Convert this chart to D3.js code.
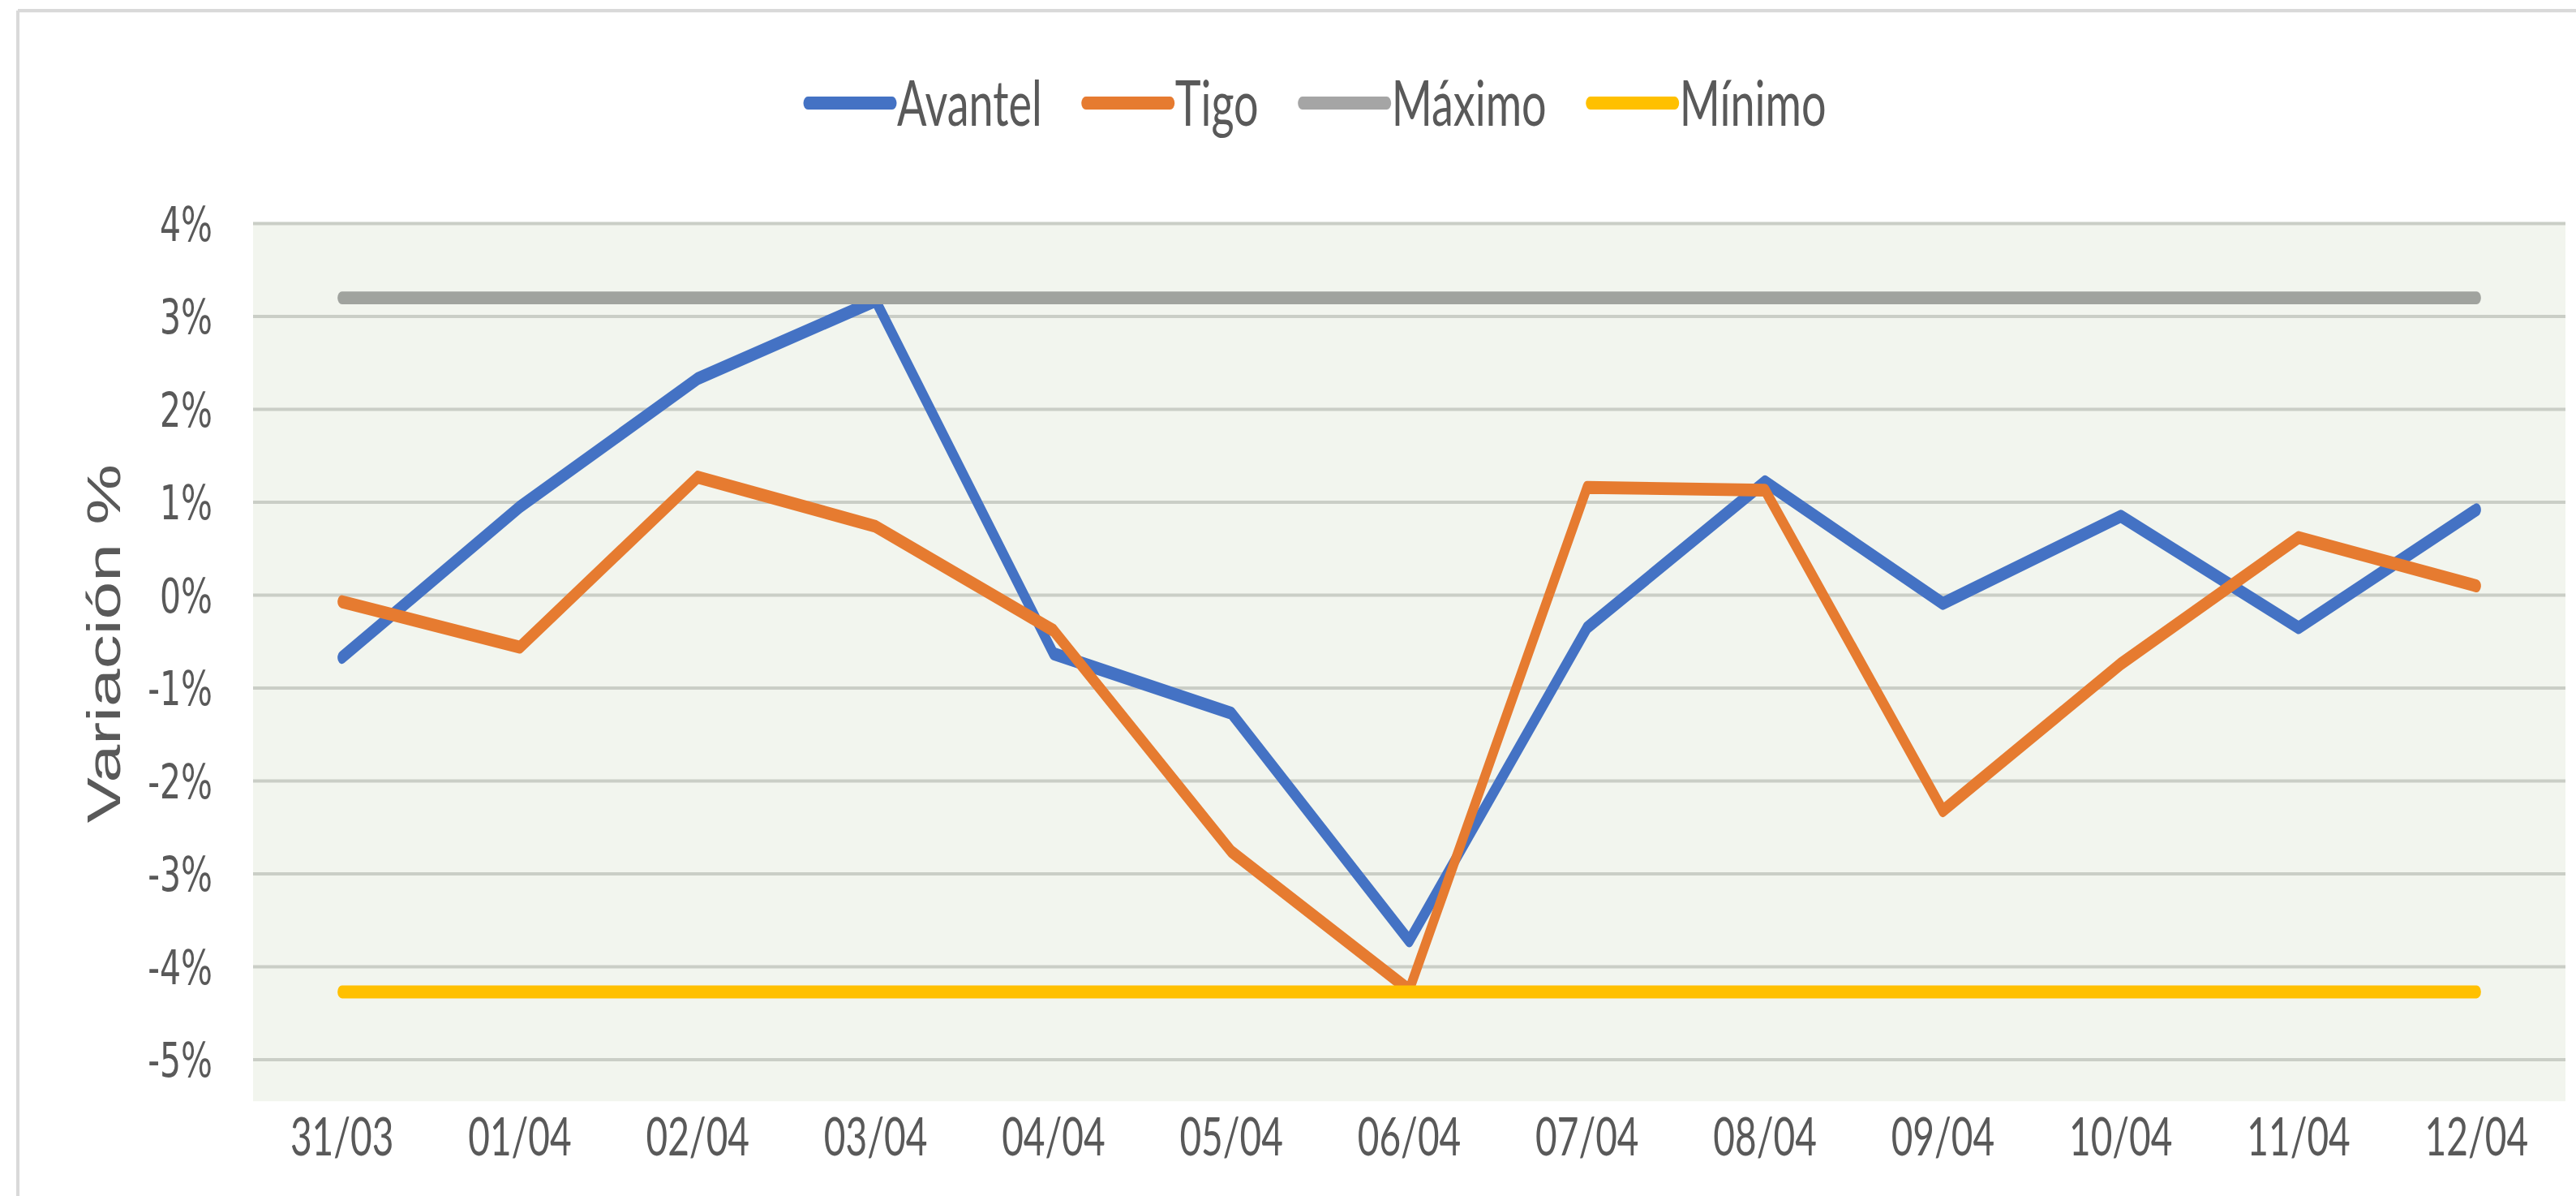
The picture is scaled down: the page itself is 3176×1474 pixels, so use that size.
<!DOCTYPE html>
<html>
<head>
<meta charset="utf-8">
<script src="https://cdn.jsdelivr.net/npm/d3@7"></script>
<style>
    html, body { margin: 0; padding: 0; background: #ffffff; }
    svg { display: block; }
</style>
</head>
<body>
<script>
// Data
const categories = ["31/03", "01/04", "02/04", "03/04", "04/04", "05/04", "06/04",
    "07/04", "08/04", "09/04", "10/04", "11/04", "12/04"];
const avantel = [-0.67, 0.95, 2.33, 3.17, -0.63, -1.27, -3.72, -0.35, 1.22, -0.09, 0.85, -0.35, 0.92];
const tigo = [-0.07, -0.56, 1.27, 0.74, -0.38, -2.76, -4.25, 1.16, 1.13, -2.32, -0.74, 0.62, 0.10];
const maximo = [3.2, 3.2, 3.2, 3.2, 3.2, 3.2, 3.2, 3.2, 3.2, 3.2, 3.2, 3.2, 3.2];
const minimo = [-4.27, -4.27, -4.27, -4.27, -4.27, -4.27, -4.27, -4.27, -4.27, -4.27, -4.27, -4.27, -4.27];
const yTicks = [-5, -4, -3, -2, -1, 0, 1, 2, 3, 4];

const seriesNames = ["Avantel", "Tigo", "Máximo", "Mínimo"];
const seriesValues = [avantel, tigo, maximo, minimo];
const seriesColors = ["#4472C4", "#E67B30", "#A0A39E", "#FFC000"];

const width = 3176;
const height = 1474;
// The original picture is stretched vertically, so draw in a squashed
// coordinate system and stretch the whole group back.
const stretch = 1.45;
const innerH = height / stretch;

const plot = {left: 312, right: 3163, top: 190, bottom: 900.7, bgBottom: 936};

const svg = d3.select("body").append("svg")
    .attr("width", width)
    .attr("height", height);

const root = svg.append("g").attr("transform", `scale(1, ${stretch})`);

// Outer frame (left and top edges only are visible)
root.append("line")
    .attr("x1", 22).attr("x2", 22).attr("y1", 9).attr("y2", innerH)
    .attr("stroke", "#D9D9D9").attr("stroke-width", 4);
root.append("line")
    .attr("x1", 22).attr("x2", width).attr("y1", 9).attr("y2", 9)
    .attr("stroke", "#D9D9D9").attr("stroke-width", 3);

const x = d3.scaleBand()
    .domain(categories)
    .range([plot.left, plot.right]);

const y = d3.scaleLinear()
    .domain([-5, 4])
    .range([plot.bottom, plot.top]);

const cx = d => x(d) + x.bandwidth() / 2;

// Plot area background
root.append("rect")
    .attr("x", plot.left)
    .attr("y", plot.top)
    .attr("width", plot.right - plot.left)
    .attr("height", plot.bgBottom - plot.top)
    .attr("fill", "#F2F5EE");

// Gridlines
root.append("g")
    .selectAll("line")
    .data(yTicks)
    .join("line")
    .attr("x1", plot.left)
    .attr("x2", plot.right)
    .attr("y1", d => y(d))
    .attr("y2", d => y(d))
    .attr("stroke", "#CACEC6")
    .attr("stroke-width", 2.8);

// Y tick labels
root.append("g")
    .selectAll("text")
    .data(yTicks)
    .join("text")
    .attr("x", 262)
    .attr("y", d => y(d) + 14.5)
    .attr("text-anchor", "end")
    .attr("font-family", "DejaVu Sans, Verdana, sans-serif")
    .attr("font-size", 41)
    .attr("fill", "#595959")
    .text(d => d + "%");

// X tick labels
root.append("g")
    .selectAll("text")
    .data(categories)
    .join("text")
    .attr("x", d => cx(d))
    .attr("y", 982)
    .attr("text-anchor", "middle")
    .attr("font-family", "Lato, sans-serif")
    .attr("font-size", 46)
    .attr("fill", "#595959")
    .text(d => d);

// Y axis title
root.append("text")
    .attr("transform", `translate(148, 547) rotate(-90)`)
    .attr("text-anchor", "middle")
    .attr("font-family", "Liberation Sans, Arial, sans-serif")
    .attr("font-size", 58)
    .attr("fill", "#595959")
    .text("Variación %");

// Series lines
const line = d3.line()
    .x((d, i) => cx(categories[i]))
    .y(d => y(d));

root.append("g")
    .selectAll("path")
    .data(seriesValues)
    .join("path")
    .attr("d", d => line(d))
    .attr("fill", "none")
    .attr("stroke", (d, i) => seriesColors[i])
    .attr("stroke-width", 11)
    .attr("stroke-linecap", "round")
    .attr("stroke-linejoin", "round");

// Legend, laid out left to right
const legend = root.append("g").attr("transform", "translate(996, 87.6)");
let offset = 0;
seriesNames.forEach((name, i) => {
    const item = legend.append("g").attr("transform", `translate(${offset}, 0)`);
    item.append("line")
        .attr("x1", 0).attr("x2", 104)
        .attr("y1", 0).attr("y2", 0)
        .attr("stroke", i === 2 ? "#A5A5A5" : seriesColors[i])
        .attr("stroke-width", 11)
        .attr("stroke-linecap", "round");
    const label = item.append("text")
        .attr("x", 110)
        .attr("y", 19)
        .attr("font-family", "Lato, sans-serif")
        .attr("font-size", 54)
        .attr("fill", "#595959")
        .text(name);
    offset += 110 + label.node().getComputedTextLength() + 54;
});
</script>
</body>
</html>
